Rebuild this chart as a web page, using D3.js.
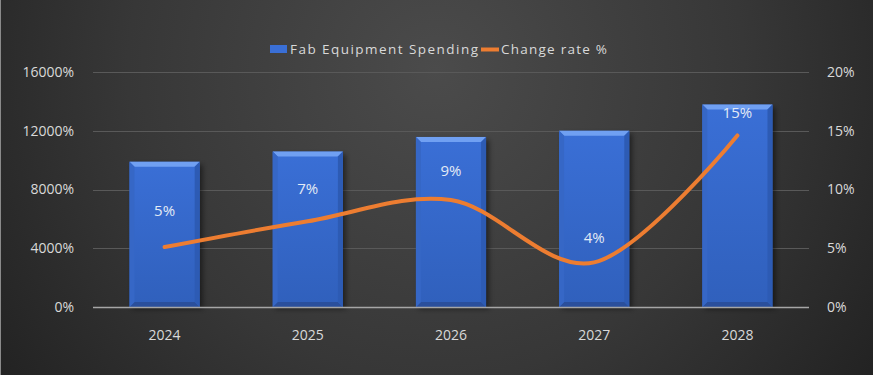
<!DOCTYPE html>
<html><head><meta charset="utf-8">
<script src="https://cdn.jsdelivr.net/npm/d3@7"></script>
<style>html,body{margin:0;padding:0;background:#2a2a2a;}svg{display:block;}</style>
</head><body>
<svg id="chart" width="873" height="375"></svg>
<script>
// ---- data ----
const years = ["2024", "2025", "2026", "2027", "2028"];
const spending = [98.9, 105.8, 115.8, 120.0, 137.8];   // shown as % on left axis
const changeRate = [0.051, 0.073, 0.091, 0.038, 0.146];
const leftTicks = [0, 40, 80, 120, 160];
const rightTicks = [0, 0.05, 0.10, 0.15, 0.20];
const seriesNames = ["Fab Equipment Spending", "Change rate %"];
// label lift above line points (px) - layout
const labelLift = [36, 32, 29, 24, 22];

const W = 873, H = 375;
const m = {l: 93, r: 873 - 809, t: 72, b: 375 - 307};
const svg = d3.select("#chart");
const FONT = "'Open Sans', 'DejaVu Sans', sans-serif";

// background
const defs = svg.append("defs");
const bg = defs.append("radialGradient").attr("id","bg").attr("gradientUnits","userSpaceOnUse")
  .attr("cx", 436).attr("cy", 70).attr("r", 560);
bg.append("stop").attr("offset","0%").attr("stop-color","#4b4b4b");
bg.append("stop").attr("offset","55%").attr("stop-color","#373737");
bg.append("stop").attr("offset","100%").attr("stop-color","#202020");
svg.append("rect").attr("width",W).attr("height",H).attr("fill","url(#bg)");
svg.append("line").attr("x1",0.5).attr("x2",0.5).attr("y1",0).attr("y2",H).attr("stroke","#8a8a8a").attr("stroke-width",1);

const barG = defs.append("linearGradient").attr("id","barG").attr("x1",0).attr("x2",0).attr("y1",0).attr("y2",1);
barG.append("stop").attr("offset","0%").attr("stop-color","#3a6fd6");
barG.append("stop").attr("offset","100%").attr("stop-color","#3060bc");
const sh = defs.append("filter").attr("id","shadow").attr("x","-20%").attr("y","-20%").attr("width","150%").attr("height","150%");
sh.append("feGaussianBlur").attr("stdDeviation",2.5);

const x = d3.scaleBand().domain(years).range([m.l, W - m.r]).paddingInner(0.51).paddingOuter(0.255);
const yL = d3.scaleLinear().domain([0, 160]).range([H - m.b, m.t]);
const yR = d3.scaleLinear().domain([0, 0.20]).range([H - m.b, m.t]);

// gridlines
svg.append("g").selectAll("line").data(leftTicks.slice(1)).join("line")
  .attr("x1", m.l).attr("x2", W - m.r)
  .attr("y1", d => Math.round(yL(d)) + 0.5).attr("y2", d => Math.round(yL(d)) + 0.5)
  .attr("stroke", "#595959").attr("stroke-width", 1);

// axes
const fmtL = d3.format(".0%");
const axL = svg.append("g").attr("transform", `translate(${m.l},0)`)
  .call(d3.axisLeft(yL).tickValues(leftTicks).tickFormat(fmtL).tickSize(0).tickPadding(19));
const axR = svg.append("g").attr("transform", `translate(${W - m.r},0)`)
  .call(d3.axisRight(yR).tickValues(rightTicks).tickFormat(d3.format(".0%")).tickSize(0).tickPadding(18));
const axB = svg.append("g").attr("transform", `translate(0,${H - m.b})`)
  .call(d3.axisBottom(x).tickSize(0).tickPadding(23));
[axL, axR, axB].forEach(a => {
  a.select(".domain").remove();
  a.selectAll("text").attr("fill", "#d9d9d9").style("font-family", FONT).style("font-size", "14px");
});

// bars
const bars = svg.append("g").selectAll("g").data(years.map((y, i) => ({y, v: spending[i]}))).join("g");
const bw = x.bandwidth(), bv = 5;
bars.append("rect").attr("x", d => x(d.y) + 3).attr("y", d => yL(d.v) + 3)
  .attr("width", bw).attr("height", d => yL(0) - yL(d.v) - 1).attr("fill", "#000").attr("opacity", 0.45).attr("filter","url(#shadow)");
bars.append("rect").attr("x", d => x(d.y)).attr("y", d => yL(d.v))
  .attr("width", bw).attr("height", d => yL(0) - yL(d.v)).attr("fill", "url(#barG)");
// bevels
bars.append("path").attr("fill", "#70a0f2").attr("d", d => {
  const x0 = x(d.y), x1 = x0 + bw, t = yL(d.v);
  return `M${x0},${t}L${x1},${t}L${x1 - bv},${t + bv}L${x0 + bv},${t + bv}Z`;
});
bars.append("path").attr("fill", "#2a4f9c").attr("d", d => {
  const x0 = x(d.y), x1 = x0 + bw, b = yL(0);
  return `M${x0},${b}L${x1},${b}L${x1 - bv},${b - bv}L${x0 + bv},${b - bv}Z`;
});
bars.append("path").attr("fill", "#3667c6").attr("d", d => {
  const x0 = x(d.y), t = yL(d.v), b = yL(0);
  return `M${x0},${t}L${x0 + bv},${t + bv}L${x0 + bv},${b - bv}L${x0},${b}Z`;
});
bars.append("path").attr("fill", "#2d5bb4").attr("d", d => {
  const x1 = x(d.y) + bw, t = yL(d.v), b = yL(0);
  return `M${x1},${t}L${x1 - bv},${t + bv}L${x1 - bv},${b - bv}L${x1},${b}Z`;
});

// baseline
svg.append("line").attr("x1", m.l).attr("x2", W - m.r)
  .attr("y1", yL(0) + 0.5).attr("y2", yL(0) + 0.5).attr("stroke", "#a6a6a6").attr("stroke-width", 1.5);

// line
const pts = years.map((y, i) => [x(y) + bw / 2, yR(changeRate[i])]);
svg.append("path").attr("d", d3.line().curve(d3.curveCardinal.tension(0))(pts))
  .attr("fill", "none").attr("stroke", "#ed7d31").attr("stroke-width", 4).attr("stroke-linecap", "round");

// labels
svg.append("g").selectAll("text").data(changeRate).join("text")
  .attr("x", (d, i) => pts[i][0]).attr("y", (d, i) => pts[i][1] - labelLift[i] + 5)
  .attr("text-anchor", "middle").attr("fill", "#e3eaf5")
  .style("font-family", FONT).style("font-size", "15px")
  .text(d => d3.format(".0%")(d));

// legend
const lg = svg.append("g").style("font-family", FONT).style("font-size", "13.5px");
lg.append("rect").attr("x", 270).attr("y", 45).attr("width", 17).attr("height", 8).attr("fill", "#3a6fd6");
lg.append("text").attr("x", 290).attr("y", 54).attr("fill", "#d9d9d9").attr("textLength", 188).attr("lengthAdjust","spacing").text(seriesNames[0]);
lg.append("line").attr("x1", 481).attr("x2", 499).attr("y1", 49.5).attr("y2", 49.5).attr("stroke", "#ed7d31").attr("stroke-width", 4);
lg.append("text").attr("x", 501).attr("y", 54).attr("fill", "#d9d9d9").attr("textLength", 106).attr("lengthAdjust","spacing").text(seriesNames[1]);
</script>
</body></html>
